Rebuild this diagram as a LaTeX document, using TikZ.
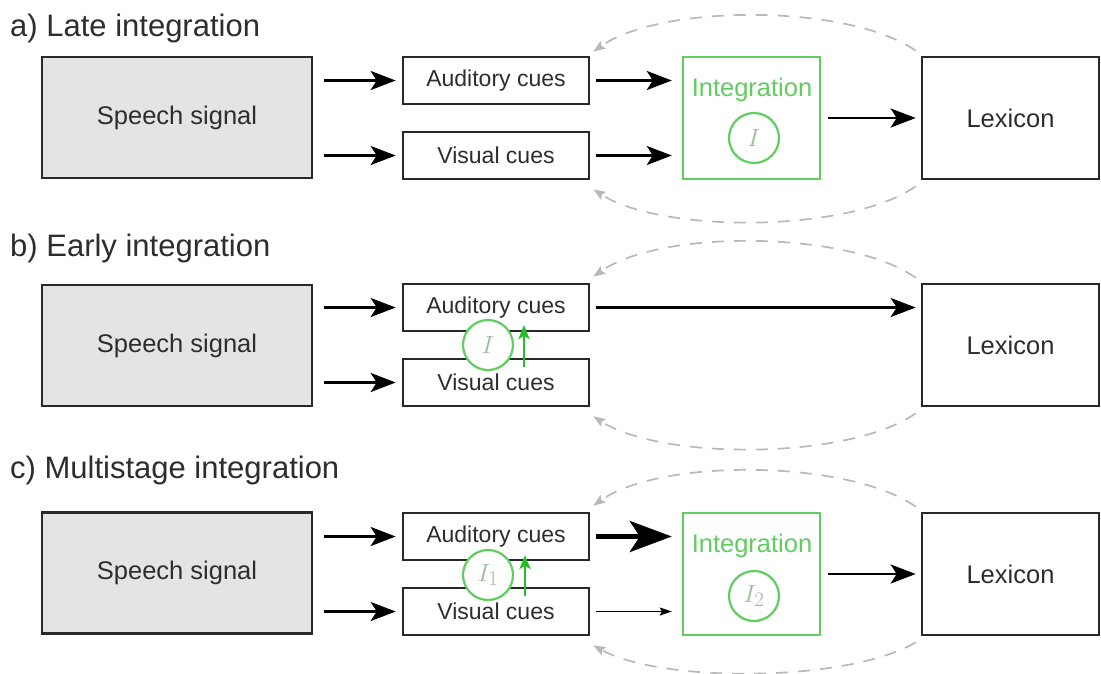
\documentclass[tikz,border=0pt]{standalone}
\usepackage{fontspec}
\setmainfont{Liberation Sans}
\usetikzlibrary{arrows.meta}
\definecolor{txt}{RGB}{45,45,45}
\definecolor{boxline}{RGB}{40,40,40}
\definecolor{sfill}{RGB}{228,228,228}
\definecolor{grn}{RGB}{95,205,95}
\definecolor{grnarr}{RGB}{40,190,40}
\definecolor{itxt}{RGB}{150,190,150}
\definecolor{dgray}{RGB}{185,185,185}
\begin{document}
\begin{tikzpicture}[x=1pt,y=-1pt,
  box/.style={draw=boxline, line width=2.6pt, rectangle, inner sep=0pt, text=txt},
  sbox/.style={box, fill=sfill, minimum width=270pt, minimum height=121pt, font=\fontsize{25.5}{30}\selectfont},
  cue/.style={box, fill=white, minimum width=186pt, minimum height=47pt, font=\fontsize{23}{27}\selectfont},
  lexbox/.style={box, minimum width=177pt, minimum height=122pt, font=\fontsize{25.5}{30}\selectfont},
  intbox/.style={draw=grn, line width=2.4pt, rectangle, minimum width=137pt, minimum height=122pt, inner sep=0pt},
  intlab/.style={text=grn, font=\fontsize{25.5}{30}\selectfont, inner sep=0pt},
  icirc/.style={circle, draw=grn, line width=2.2pt, fill=white, minimum size=50pt, inner sep=0pt, text=itxt, font=\fontsize{24.88}{28}\selectfont},
  title/.style={anchor=west, inner sep=0pt, text=txt, font=\fontsize{31}{36}\selectfont},
  arr/.style={draw=black, line width=2.8pt, -{Stealth[length=25pt,width=19pt,inset=6pt]}},
  tarr/.style={draw=black, line width=4.8pt, -{Stealth[length=42pt,width=31pt,inset=10pt]}},
  thinarr/.style={draw=black, line width=1.4pt, -{Stealth[length=12pt,width=8pt,inset=2pt]}},
  garr/.style={draw=grnarr, line width=2.5pt, -{Stealth[length=14pt,width=11pt,inset=3pt]}},
  fb/.style={draw=dgray, line width=1.7pt, dash pattern=on 12pt off 10pt, -{Stealth[length=12pt,width=9pt,inset=2pt]}}
]
\useasboundingbox (0,0) rectangle (1101,673);

% ---------------- a) Late integration
\node[title] (ta) at (10,28) {a) Late integration};
\node[sbox] (sa) at (177,117.5) {Speech signal};
\node[cue] (aa) at (496,80.5) {Auditory cues};
\node[cue] (va) at (496,155.5) {Visual cues};
\node[intbox] (ia) at (751.5,118) {};
\node[intlab] (ila) at (752,90) {Integration};
\node[icirc] (ca) at (754,138) {$I$};
\node[lexbox] (la) at (1010.5,118) {Lexicon};
\draw[arr, shorten <=11pt, shorten >=6pt] (sa.east |- aa.west) -- (aa.west);
\draw[arr, shorten <=11pt, shorten >=6pt] (sa.east |- va.west) -- (va.west);
\draw[arr, shorten <=6pt, shorten >=10pt] (aa.east) -- (aa.east -| ia.west);
\draw[arr, shorten <=6pt, shorten >=10pt] (va.east) -- (va.east -| ia.west);
\draw[arr, shorten <=7pt, shorten >=5pt] (ia.east) -- (la.west);
\draw[fb] ([shift={(-5,-5)}]la.north west) .. controls +(-67,-47) and +(68,-48) .. ([shift={(3,-4)}]aa.north east);
\draw[fb] ([shift={(-5,6)}]la.south west) .. controls +(-67,47) and +(68,44) .. ([shift={(3,9)}]va.south east);

% ---------------- b) Early integration
\node[title] (tb) at (10,248) {b) Early integration};
\node[sbox] (sb) at (177,345.5) {Speech signal};
\node[cue] (ab) at (496,307.5) {Auditory cues};
\node[cue] (vb) at (496,382.5) {Visual cues};
\node[lexbox] (lb) at (1010.5,345) {Lexicon};
\draw[arr, shorten <=11pt, shorten >=6pt] (sb.east |- ab.west) -- (ab.west);
\draw[arr, shorten <=11pt, shorten >=6pt] (sb.east |- vb.west) -- (vb.west);
\draw[arr, shorten <=6pt, shorten >=5pt] (ab.east) -- (ab.east -| lb.west);
\node[icirc] (cb) at (488,345) {$I$};
\coordinate (gb1) at (524,367);
\coordinate (gb2) at (524,325);
\draw[garr] (gb1) -- (gb2);
\draw[fb] ([shift={(-5,-5)}]lb.north west) .. controls +(-67,-47) and +(68,-48) .. ([shift={(3,-6)}]ab.north east);
\draw[fb] ([shift={(-5,6)}]lb.south west) .. controls +(-67,47) and +(68,44) .. ([shift={(3,9)}]vb.south east);

% ---------------- c) Multistage integration
\node[title] (tc) at (10,470) {c) Multistage integration};
\node[sbox] (sc) at (177,573) {Speech signal};
\node[cue] (ac) at (496,536.5) {Auditory cues};
\node[cue] (vc) at (496,611.5) {Visual cues};
\node[intbox] (ic) at (751.5,574) {};
\node[intlab] (ilc) at (752,546) {Integration};
\node[icirc] (cc2) at (754,596) {$I_2$};
\node[lexbox] (lc) at (1010.5,574) {Lexicon};
\draw[arr, shorten <=11pt, shorten >=6pt] (sc.east |- ac.west) -- (ac.west);
\draw[arr, shorten <=11pt, shorten >=6pt] (sc.east |- vc.west) -- (vc.west);
\draw[tarr, shorten <=6pt, shorten >=10pt] (ac.east) -- (ac.east -| ic.west);
\draw[thinarr, shorten <=6pt, shorten >=10pt] (vc.east) -- (vc.east -| ic.west);
\draw[arr, shorten <=7pt, shorten >=5pt] (ic.east) -- (lc.west);
\node[icirc] (cc1) at (488,575) {$I_1$};
\coordinate (gc1) at (525,596);
\coordinate (gc2) at (525,555);
\draw[garr] (gc1) -- (gc2);
\draw[fb] ([shift={(-5,-5)}]lc.north west) .. controls +(-67,-47) and +(68,-48) .. ([shift={(3,-6)}]ac.north east);
\draw[fb] ([shift={(-5,6)}]lc.south west) .. controls +(-67,40) and +(68,38) .. ([shift={(3,9)}]vc.south east);
\end{tikzpicture}
\end{document}
